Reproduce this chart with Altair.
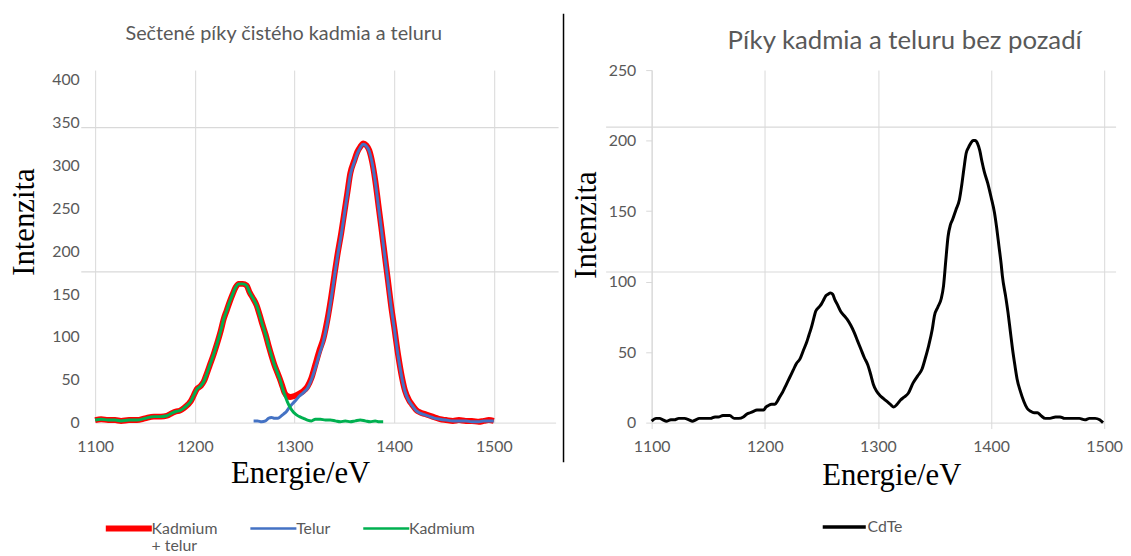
import altair as alt
import pandas as pd

# ---------------- data ----------------
sum_energy = [1100, 1106, 1113, 1120, 1126, 1134, 1142, 1150, 1159, 1166, 1172, 1177, 1181, 1185,
              1189, 1193, 1196, 1199, 1202, 1206, 1209, 1212, 1215, 1219, 1222, 1226, 1229, 1232,
              1235, 1238, 1241, 1244, 1248, 1252, 1255, 1258, 1262, 1265, 1268, 1271, 1274, 1277,
              1280, 1283, 1285, 1288, 1290, 1293, 1296, 1300, 1305, 1309, 1313, 1317, 1321, 1325,
              1329, 1333, 1337, 1340, 1343, 1347, 1350, 1353, 1356, 1360, 1363, 1366, 1369, 1372,
              1375, 1378, 1381, 1384, 1387, 1390, 1394, 1397, 1400, 1404, 1408, 1411, 1415, 1418,
              1422, 1426, 1431, 1436, 1441, 1446, 1452, 1459, 1465, 1472, 1478, 1485, 1490, 1495, 1500]
sum_values = [3, 4, 3, 3, 2, 3, 3, 5, 7, 7, 8, 11, 13, 14,
              17, 21, 25, 32, 39, 43, 48, 57, 67, 80, 91, 107, 121, 131,
              141, 150, 158, 162, 162, 160, 152, 146, 137, 126, 114, 103, 90, 78,
              67, 58, 52, 42, 35, 31, 30, 31, 34, 37, 42, 52, 68, 84,
              98, 120, 148, 172, 195, 222, 245, 268, 291, 306, 316, 322, 326, 324,
              318, 304, 283, 256, 229, 201, 164, 136, 112, 79, 52, 37, 26, 21,
              15, 12, 10, 8, 6, 4, 3, 2, 3, 2, 2, 1, 2, 3, 2]

cd_energy = [1100, 1106, 1113, 1120, 1126, 1134, 1142, 1150, 1159, 1166, 1172, 1177, 1181, 1185,
             1189, 1193, 1196, 1199, 1202, 1206, 1209, 1212, 1215, 1219, 1222, 1226, 1229, 1232,
             1235, 1238, 1241, 1244, 1248, 1252, 1255, 1258, 1262, 1265, 1268, 1271, 1274, 1277,
             1280, 1283, 1285, 1288, 1290, 1293, 1296, 1299, 1302, 1305, 1309, 1313, 1317, 1321,
             1326, 1331, 1336, 1341, 1346, 1351, 1356, 1361, 1366, 1371, 1376, 1381, 1385, 1389]
cd_values = [3, 4, 3, 3, 2, 3, 3, 5, 7, 7, 8, 11, 13, 14,
             17, 21, 25, 32, 39, 43, 48, 57, 67, 80, 91, 107, 121, 131,
             141, 150, 158, 162, 162, 160, 152, 146, 137, 126, 114, 103, 90, 78,
             67, 58, 52, 40, 33, 24, 17, 12, 9, 7, 5, 3, 2, 4,
             4, 3, 3, 2, 1, 2, 1, 2, 3, 2, 1, 2, 1, 1]

te_energy = [1259, 1263, 1267, 1271, 1274, 1277, 1280, 1283, 1286, 1289, 1292, 1295, 1298, 1302,
             1305, 1309, 1313, 1317, 1321, 1325, 1329, 1333, 1337, 1340, 1343, 1347, 1350, 1353,
             1356, 1360, 1363, 1366, 1369, 1372, 1375, 1378, 1381, 1384, 1387, 1390, 1394, 1397,
             1400, 1404, 1408, 1411, 1415, 1418, 1422, 1426, 1431, 1436, 1441, 1446, 1452, 1459,
             1465, 1472, 1478, 1485, 1490, 1495, 1500]
te_values = [2, 2, 1, 2, 5, 6, 5, 5, 7, 10, 13, 18, 22, 27,
             31, 35, 40, 50, 64, 80, 95, 117, 146, 170, 193, 220, 243, 266,
             289, 304, 314, 321, 325, 323, 317, 303, 282, 255, 228, 200, 163, 135,
             111, 78, 51, 36, 25, 20, 14, 11, 9, 7, 5, 4, 3, 2,
             2, 2, 1, 1, 2, 2, 2]

cdte_energy = [1100, 1104, 1107, 1110, 1113, 1117, 1120, 1124, 1129, 1133, 1136, 1139, 1142, 1147,
               1152, 1156, 1159, 1163, 1166, 1169, 1173, 1177, 1181, 1184, 1187, 1190, 1193, 1196,
               1199, 1201, 1203, 1206, 1209, 1211, 1213, 1216, 1219, 1222, 1225, 1228, 1231, 1234,
               1237, 1239, 1241, 1243, 1245, 1248, 1250, 1252, 1254, 1256, 1258, 1260, 1262, 1264,
               1267, 1270, 1273, 1276, 1279, 1282, 1285, 1288, 1291, 1294, 1296, 1299, 1302, 1305,
               1308, 1311, 1314, 1317, 1320, 1323, 1327, 1331, 1335, 1339, 1342, 1345, 1348, 1350,
               1353, 1356, 1358, 1360, 1362, 1364, 1366, 1369, 1372, 1374, 1376, 1378, 1380, 1382,
               1384, 1386, 1388, 1390, 1392, 1394, 1397, 1400, 1403, 1405, 1407, 1409, 1410, 1413,
               1415, 1417, 1419, 1421, 1423, 1426, 1429, 1432, 1435, 1438, 1441, 1444, 1448, 1452,
               1457, 1461, 1465, 1469, 1474, 1478, 1483, 1487, 1492, 1496, 1499]
cdte_values = [1, 3, 3, 2, 1, 2, 2, 3, 3, 2, 1, 2, 3, 3,
               3, 4, 4, 5, 5, 5, 3, 3, 4, 6, 7, 8, 9, 9,
               9, 11, 12, 13, 13, 15, 18, 22, 27, 32, 37, 42, 45, 51,
               57, 62, 67, 73, 79, 82, 84, 87, 90, 91, 92, 91, 87, 84,
               79, 76, 73, 69, 64, 58, 52, 46, 41, 33, 27, 22, 19, 17,
               15, 13, 11, 13, 16, 18, 21, 28, 33, 38, 46, 55, 66, 76,
               82, 88, 97, 115, 132, 140, 144, 151, 158, 168, 180, 191, 195, 198,
               200, 200, 198, 193, 185, 178, 170, 160, 149, 138, 125, 112, 104, 89,
               78, 65, 52, 41, 31, 22, 15, 10, 8, 7, 7, 5, 3, 3,
               4, 4, 3, 3, 3, 3, 2, 3, 3, 2, 0]

left_series = ["Kadmium + telur", "Telur", "Kadmium"]
left_colors = ["#FF0000", "#4472C4", "#00B050"]
x_ticks = [1100, 1200, 1300, 1400, 1500]
left_ticks_y = [0, 50, 100, 150, 200, 250, 300, 350, 400]
right_ticks_y = [0, 50, 100, 150, 200, 250]

left_title = "Sečtené píky čistého kadmia a teluru"
right_title = "Píky kadmia a teluru bez pozadí"

FONT = "Lato"
SERIF = "Liberation Serif"
GRAY = "#595959"
GRID = "#d9d9d9"

df_sum = pd.DataFrame({"E": sum_energy, "V": sum_values, "series": left_series[0]})
df_te = pd.DataFrame({"E": te_energy, "V": te_values, "series": left_series[1]})
df_cd = pd.DataFrame({"E": cd_energy, "V": cd_values, "series": left_series[2]})
df_cdte = pd.DataFrame({"E": cdte_energy, "V": cdte_values, "series": "CdTe"})

LW, LH = 465, 356
RW, RH = 457, 356

# ---------------- left panel ----------------
xl = alt.X("E:Q", scale=alt.Scale(domain=[1100, 1562], nice=False, zero=False),
           axis=alt.Axis(values=x_ticks, format="d", labelFlush=False, title="Energie/eV",
                         grid=True, gridColor=GRID, domainColor=GRID, ticks=False, labelPadding=16,
                         labelFontSize=16, labelColor=GRAY, labelFont=FONT, titleFont=SERIF,
                         titleFontSize=31, titleFontWeight="normal", titleColor="black",
                         titleX=207, titleY=60, titleBaseline="alphabetic"))
yl = alt.Y("V:Q", scale=alt.Scale(domain=[0, 411.6], nice=False),
           axis=alt.Axis(values=left_ticks_y, format="d", labelFlush=False, title="Intenzita",
                         grid=False, domain=False, ticks=False, labelPadding=16, labelFontSize=16,
                         labelColor=GRAY, labelFont=FONT, titleFont=SERIF, titleFontSize=31,
                         titleFontWeight="normal", titleColor="black",
                         titleX=-62, titleY=153, titleBaseline="alphabetic"))
legend_left = alt.Legend(
    title=None, orient="none", direction="horizontal", legendX=26, legendY=455,
    symbolType="stroke", symbolSize=2160,
    symbolStrokeWidth={"expr": "datum.value == 'Kadmium + telur' ? 6 : 2.5"},
    labelFont=FONT, labelFontSize=16, labelColor=GRAY, columnPadding=27, labelOffset=15,
    labelExpr="datum.label == 'Kadmium + telur' ? ['Kadmium', '+ telur'] : [datum.label, '']",
    labelBaseline="middle")
cl = alt.Color("series:N", scale=alt.Scale(domain=left_series, range=left_colors), legend=legend_left)

line_sum = alt.Chart(df_sum).mark_line(strokeWidth=6, interpolate="monotone").encode(x=xl, y=yl, color=cl)
line_te = alt.Chart(df_te).mark_line(strokeWidth=3, interpolate="monotone").encode(x=xl, y=yl, color=cl)
line_cd = alt.Chart(df_cd).mark_line(strokeWidth=3, interpolate="monotone").encode(x=xl, y=yl, color=cl)

doc_lines_left = pd.DataFrame({"V": [344.5, 176.0]})
hl_left = alt.Chart(doc_lines_left).mark_rule(color=GRID, strokeWidth=1.2).encode(
    y="V:Q", x=alt.value(-14), x2=alt.value(LW + 3))

left = alt.layer(hl_left, line_sum, line_te, line_cd).properties(
    width=LW, height=LH,
    title=alt.TitleParams(left_title, font=FONT, fontSize=20, fontWeight="normal", color=GRAY,
                          anchor="middle", dx=-42, offset=26))

# ---------------- separator ----------------
sep = alt.Chart(pd.DataFrame({"k": [0]})).mark_rule(color="black", strokeWidth=1.5).encode(
    x=alt.value(0), y=alt.value(-57), y2=alt.value(396)).properties(width=4, height=LH)

# ---------------- right panel ----------------
xr = alt.X("E:Q", scale=alt.Scale(domain=[1100, 1500], nice=False, zero=False),
           axis=alt.Axis(values=x_ticks, format="d", labelFlush=False, title="Energie/eV",
                         grid=True, gridColor=GRID, domainColor=GRID, tickColor=GRID, tickSize=6,
                         labelPadding=10, labelFontSize=16, labelColor=GRAY, labelFont=FONT,
                         titleFont=SERIF, titleFontSize=31, titleFontWeight="normal",
                         titleColor="black", titleX=242, titleY=63, titleBaseline="alphabetic"))
yr = alt.Y("V:Q", scale=alt.Scale(domain=[0, 250], nice=False),
           axis=alt.Axis(values=right_ticks_y, format="d", labelFlush=False, title="Intenzita",
                         grid=False, domainColor=GRID, tickColor=GRID, tickSize=6, labelPadding=10,
                         labelFontSize=16, labelColor=GRAY, labelFont=FONT, titleFont=SERIF,
                         titleFontSize=31, titleFontWeight="normal", titleColor="black",
                         titleX=-57, titleY=156, titleBaseline="alphabetic"))
legend_right = alt.Legend(
    title=None, orient="none", direction="horizontal", legendX=171, legendY=438,
    symbolType="stroke", symbolSize=1890, symbolStrokeWidth=3.5, labelFont=FONT,
    labelFontSize=16, labelColor=GRAY, labelOffset=0)
cr = alt.Color("series:N", scale=alt.Scale(domain=["CdTe"], range=["black"]), legend=legend_right)

line_cdte = alt.Chart(df_cdte).mark_line(strokeWidth=3, interpolate="monotone").encode(x=xr, y=yr, color=cr)

doc_lines_right = pd.DataFrame({"V": [209.6, 106.8]})
hl_right = alt.Chart(doc_lines_right).mark_rule(color=GRID, strokeWidth=1.2).encode(
    y="V:Q", x=alt.value(-46), x2=alt.value(RW + 12))

right = alt.layer(hl_right, line_cdte).properties(
    width=RW, height=RH,
    title=alt.TitleParams(right_title, font=FONT, fontSize=26, fontWeight="normal", color=GRAY,
                          anchor="middle", dx=27, offset=8))

chart = alt.hconcat(left, sep, right, spacing=3).resolve_scale(
    color="independent", x="independent", y="independent"
).resolve_legend(color="independent").properties(
    padding={"left": 0, "top": 2, "right": 0, "bottom": 0}
).configure_view(strokeWidth=0)

chart.save("out.html", embed_options={"renderer": "svg", "actions": False})
